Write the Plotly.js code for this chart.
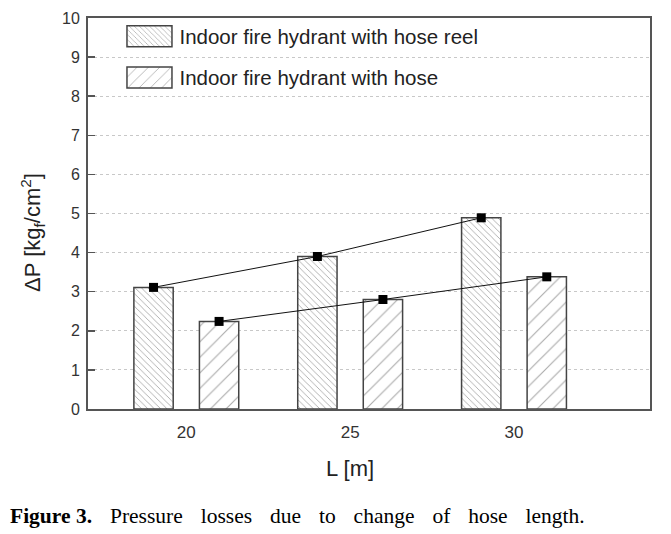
<!DOCTYPE html>
<html>
<head>
<meta charset="utf-8">
<script src="https://cdn.plot.ly/plotly-3.0.1.min.js"></script>
<style>html,body{margin:0;padding:0;background:#fff;}</style>
</head>
<body>
<div id="chart" style="width:671px;height:534px;"></div>
<script>
// Data
const lengths = [20, 25, 30];
const tickLabels = ['20', '25', '30'];
const reelLoss = [3.11, 3.90, 4.89];
const hoseLoss = [2.24, 2.80, 3.38];
const seriesNames = ['Indoor fire hydrant with hose reel', 'Indoor fire hydrant with hose'];

const reelX = lengths.map(v => v - 1);
const hoseX = lengths.map(v => v + 1);

const traces = [
  {
    type: 'bar', x: lengths, y: reelLoss, name: seriesNames[0],
    offset: -1.6, width: 1.2, legendgroup: 'a',
    marker: {color: '#ffffff', line: {color: '#444', width: 1.5},
      pattern: {shape: '\\', size: 4.5, solidity: 0.2, fgcolor: '#555', bgcolor: '#fff', fillmode: 'overlay'}}
  },
  {
    type: 'bar', x: lengths, y: hoseLoss, name: seriesNames[1],
    offset: 0.4, width: 1.2, legendgroup: 'b',
    marker: {color: '#ffffff', line: {color: '#444', width: 1.5},
      pattern: {shape: '/', size: 11, solidity: 0.1, fgcolor: '#555', bgcolor: '#fff', fillmode: 'overlay'}}
  },
  {
    type: 'scatter', mode: 'lines+markers', x: reelX, y: reelLoss, showlegend: false,
    line: {color: '#111', width: 1}, marker: {symbol: 'square', size: 9, color: '#000'}
  },
  {
    type: 'scatter', mode: 'lines+markers', x: hoseX, y: hoseLoss, showlegend: false,
    line: {color: '#111', width: 1}, marker: {symbol: 'square', size: 9, color: '#000'}
  }
];

const gap = '\u00a0\u00a0\u200a ';
const caption = '<b>Figure\u00a03.</b>' + gap + ['Pressure', 'losses', 'due', 'to', 'change', 'of', 'hose', 'length.'].join(gap);

const layout = {
  width: 671, height: 534,
  margin: {l: 88, r: 21, t: 18, b: 125},
  paper_bgcolor: '#fff', plot_bgcolor: '#fff',
  barmode: 'overlay',
  font: {family: 'Liberation Sans, Arial, sans-serif', color: '#333'},
  xaxis: {
    range: [17.0, 34.15], tickvals: lengths, ticktext: tickLabels, ticks: '',
    showgrid: false, zeroline: false, showline: true, linecolor: '#555', linewidth: 2, mirror: true,
    tickfont: {size: 17, color: '#333'}, ticklabelstandoff: 7
  },
  yaxis: {
    range: [0, 10], dtick: 1, ticks: 'inside', ticklen: 7, tickcolor: '#555', tickwidth: 1.5,
    showgrid: true, gridcolor: '#c8c8c8', griddash: 'dot', gridwidth: 1,
    zeroline: false, showline: true, linecolor: '#555', linewidth: 2, mirror: true,
    tickfont: {size: 16, color: '#333'}, ticklabelstandoff: 3
  },
  showlegend: true,
  legend: {
    x: 0.056, y: 1.004, xanchor: 'left', yanchor: 'top',
    bgcolor: 'rgba(0,0,0,0)', borderwidth: 0, itemwidth: 50,
    tracegroupgap: 11.5, font: {size: 20.5, color: '#222'}
  },
  annotations: [
    {text: 'ΔP [kg<sub>f</sub>/cm<sup>2</sup>]', xref: 'paper', yref: 'paper', x: -0.098, y: 0.4527,
     xanchor: 'center', yanchor: 'middle',
     textangle: -90, showarrow: false, font: {size: 22, color: '#222'}},
    {text: 'L [m]', xref: 'paper', yref: 'paper', x: 0.466, y: -0.151,
     xanchor: 'center', yanchor: 'middle',
     showarrow: false, font: {size: 22, color: '#222'}},
    {text: caption,
     xref: 'paper', yref: 'paper', x: -0.1423, y: -0.2737, xanchor: 'left', yanchor: 'middle',
     showarrow: false, font: {size: 21.5, color: '#000', family: 'Liberation Serif, Times New Roman, serif'}}
  ]
};

Plotly.newPlot('chart', traces, layout, {displayModeBar: false, staticPlot: true}).then(function () {
  document.querySelectorAll('#chart .legend .legendpoints path').forEach(function (p) {
    p.setAttribute('d', 'M-22.5,-10.5H22.5V10.5H-22.5Z');
    p.style.strokeWidth = '1.5px';
  });
});
</script>
</body>
</html>
